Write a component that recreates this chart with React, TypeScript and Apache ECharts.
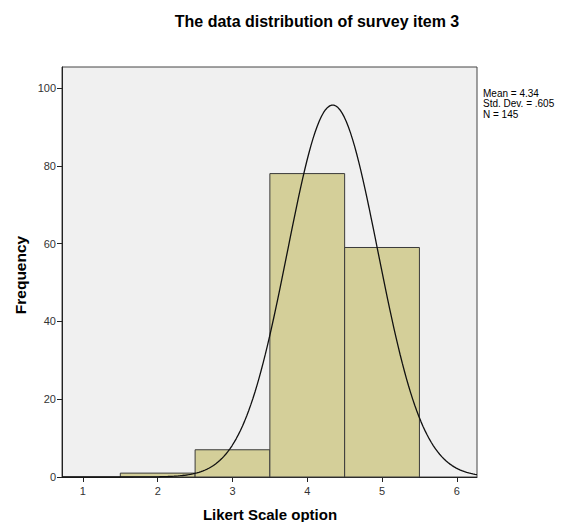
import React, { useEffect, useRef } from "react";
import * as echarts from "echarts";

const title = "The data distribution of survey item 3";
const xAxisName = "Likert Scale option";
const yAxisName = "Frequency";
const binStarts = [1.5, 2.5, 3.5, 4.5];
const binEnds = [2.5, 3.5, 4.5, 5.5];
const binCounts = [1, 7, 78, 59];
const xTicks = [1, 2, 3, 4, 5, 6];
const yTicks = [0, 20, 40, 60, 80, 100];
const mean = 4.34;
const stdDev = 0.605;
const n = 145;
const statLines = ["Mean = 4.34", "Std. Dev. = .605", "N = 145"];

const xMin = 0.72;
const xMax = 6.27;
const binWidth = 1;

// fitted normal curve from the stated Mean / Std. Dev. / N
const curveXs: number[] = [];
for (let i = 0; i <= 200; i++) curveXs.push(xMin + ((xMax - xMin) * i) / 200);
const curve = curveXs.map((x) => [
  x,
  (n * binWidth) / (stdDev * Math.sqrt(2 * Math.PI)) *
    Math.exp(-0.5 * Math.pow((x - mean) / stdDev, 2)),
]);

const FONT = "'Liberation Sans', Arial, sans-serif";

export default function App() {
  const ref = useRef<HTMLDivElement>(null);
  useEffect(() => {
    if (!ref.current) return;
    const chart = echarts.init(ref.current, undefined, { renderer: "svg" });
    const bins = binStarts.map((s, i) => [s, binEnds[i], binCounts[i]]);
    chart.setOption({
      animation: false,
      backgroundColor: "#ffffff",
      textStyle: { fontFamily: FONT },
      grid: {
        left: 54,
        top: 59,
        right: 88,
        bottom: 45,
        show: true,
        backgroundColor: "#f0f0f0",
        borderColor: "#444",
        borderWidth: 1,
      },
      xAxis: {
        type: "value",
        min: xMin,
        max: xMax,
        splitLine: { show: false },
        axisLine: { show: true, onZero: false, lineStyle: { color: "#222", width: 1 } },
        axisTick: { show: true, length: 5, customValues: xTicks, lineStyle: { color: "#222" } },
        axisLabel: {
          customValues: xTicks,
          fontFamily: FONT,
          fontSize: 11,
          color: "#333",
          margin: 8,
        },
      },
      yAxis: {
        type: "value",
        min: 0,
        max: 105.4,
        splitLine: { show: false },
        axisLine: { show: true, lineStyle: { color: "#222", width: 1 } },
        axisTick: { show: true, length: 5, customValues: yTicks, lineStyle: { color: "#222" } },
        axisLabel: {
          customValues: yTicks,
          fontFamily: FONT,
          fontSize: 11,
          color: "#333",
          margin: 6,
        },
      },
      series: [
        {
          type: "custom",
          data: bins,
          renderItem: (params: any, api: any) => {
            const p0 = api.coord([api.value(0), api.value(2)]);
            const p1 = api.coord([api.value(1), 0]);
            return {
              type: "rect",
              shape: { x: p0[0], y: p0[1], width: p1[0] - p0[0], height: p1[1] - p0[1] },
              style: { fill: "#d4cf99", stroke: "#3a3a3a", lineWidth: 1 },
            };
          },
          z: 2,
        },
        {
          type: "line",
          data: curve,
          showSymbol: false,
          smooth: false,
          lineStyle: { color: "#111", width: 1.3 },
          z: 3,
        },
      ],
      graphic: [
        {
          type: "text",
          x: 309,
          y: 13,
          style: {
            text: title,
            fontFamily: FONT,
            fontSize: 16,
            fontWeight: "bold",
            fill: "#000",
            align: "center",
            verticalAlign: "middle",
          },
        },
        {
          type: "text",
          x: 262,
          y: 506,
          style: {
            text: xAxisName,
            fontFamily: FONT,
            fontSize: 15,
            fontWeight: "bold",
            fill: "#000",
            align: "center",
            verticalAlign: "middle",
          },
        },
        {
          type: "text",
          x: 12,
          y: 267,
          rotation: Math.PI / 2,
          style: {
            text: yAxisName,
            fontFamily: FONT,
            fontSize: 15.5,
            fontWeight: "bold",
            fill: "#000",
            align: "center",
            verticalAlign: "middle",
          },
        },
        {
          type: "text",
          x: 475,
          y: 80,
          style: {
            text: statLines.join("\n"),
            fontFamily: FONT,
            fontSize: 10,
            lineHeight: 10.5,
            fill: "#000",
          },
        },
      ],
    });
    return () => chart.dispose();
  }, []);
  return <div ref={ref} style={{ width: 557, height: 514 }} />;
}
